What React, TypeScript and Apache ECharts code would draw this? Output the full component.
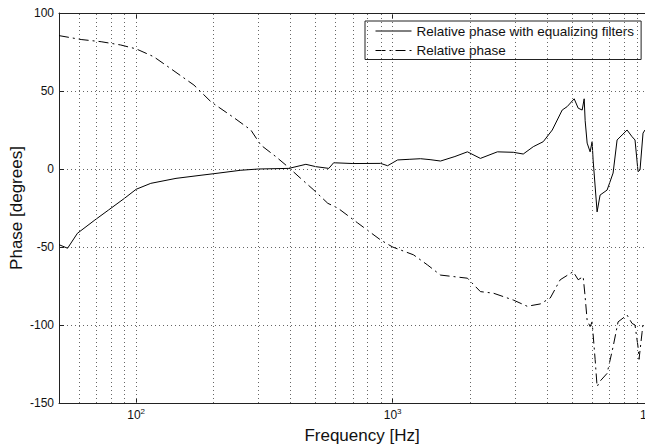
import React, { useEffect, useRef } from "react";
import * as echarts from "echarts";

const FONT = 'Arial, "Liberation Sans", Helvetica, sans-serif';
const INK = "#111";

// Phase response with equalizing filters: frequency [Hz] / phase [deg]
const eqFreq = [
  50, 54, 59, 69, 78, 90, 100, 114, 143, 179, 201, 256, 300, 367, 394, 459, 502, 564, 589,
  700, 898, 956, 1046, 1160, 1285, 1400, 1538, 1750, 1958, 2200, 2563, 2957, 3233, 3537,
  3868, 4195, 4586, 4797, 5108, 5294, 5487, 5587, 5636, 5738, 5894, 6000, 6054, 6275,
  6445, 6864, 7243, 7508, 7852, 8212, 8588, 8820, 9062, 9226, 9478, 9647, 10000,
];
const eqPhase = [
  -48.5, -50.8, -41.2, -32.7, -26.3, -18.8, -13, -9.2, -6, -4, -3, -0.8, 0, 0.3, 0.4, 3,
  1.5, 0.4, 4, 3.5, 3.6, 2.1, 5.8, 6.2, 6.6, 6, 5.1, 8, 11, 6.8, 11, 10.7, 9.6, 14.3, 17.5,
  25, 37.8, 40, 45, 39, 37.8, 45, 31, 16.6, 11, 17.5, 5.8, -27.5, -16.7, -13.5, -2.6, 18.6,
  21.8, 25, 20.7, 18.6, -1.7, -0.6, 23, 25, 25,
];

// Relative phase without equalization
const rawFreq = [
  50, 61, 73, 87, 100, 117, 133, 168, 196, 240, 280, 306, 350, 390, 438, 493, 559, 611, 731,
  898, 1000, 1206, 1368, 1538, 1958, 2200, 2472, 2957, 3351, 3766, 4120, 4505, 5062, 5294,
  5537, 5636, 5738, 5894, 6000, 6164, 6275, 6445, 6864, 7243, 7575, 8212, 8588, 8820, 9062,
  9144, 9393, 9478, 10000,
];
const rawPhase = [
  85.5, 83, 81.6, 79.5, 77, 72, 65.6, 53.8, 43, 33, 25, 15.4, 8, 1.5, -6, -13.5, -22, -25,
  -34.6, -45.5, -50, -55, -61.5, -68, -70, -78.6, -79.6, -84, -88, -86.5, -82.7, -71, -65.8,
  -71, -69, -82, -97, -101, -98, -122, -139.5, -136, -131, -114, -98, -93.6, -99, -100, -114,
  -122, -105, -99, -100,
];

// Vertical grid lines of the logarithmic frequency axis
const gridFreqs = [
  60, 70, 80, 90, 100, 200, 300, 400, 500, 600, 700, 800, 900, 1000, 2000, 3000, 4000, 5000,
  6000, 7000, 8000, 9000,
];

const SERIES_EQ = "Relative phase with equalizing filters";
const SERIES_RAW = "Relative phase";

const X_MIN = 50;
const X_MAX = 10000;
const Y_MIN = -150;
const Y_MAX = 100;
const Y_STEP = 50;

const zip = (xs: number[], ys: number[]) => xs.map((x, i) => [x, ys[i]]);

const powerLabel = (v: number) => {
  const e = Math.log10(v);
  const r = Math.round(e);
  if (Math.abs(e - r) > 1e-6) return "";
  return `{b|10}{e|${r}}`;
};

export default function App() {
  const ref = useRef<HTMLDivElement>(null);

  useEffect(() => {
    if (!ref.current) return;
    const chart = echarts.init(ref.current, undefined, { renderer: "svg" });

    const gridLine = { color: "#666", width: 1, type: [1, 3] as number[] };
    const axisLine = { show: true, onZero: false, lineStyle: { color: "#222", width: 1 } };
    const axisTick = { show: true, inside: true, length: 5, lineStyle: { color: "#222" } };

    chart.setOption({
      animation: false,
      backgroundColor: "#fff",
      textStyle: { fontFamily: FONT },
      grid: { left: 59, top: 13, width: 590, height: 390, containLabel: false },
      legend: {
        data: [SERIES_EQ, SERIES_RAW],
        orient: "vertical",
        left: 365,
        top: 21,
        itemWidth: 36,
        itemHeight: 14,
        itemGap: 5.5,
        padding: [3, 7, 2, 10],
        borderColor: "#222",
        borderWidth: 1,
        backgroundColor: "#fff",
        // keep only the line sample in each legend key
        itemStyle: { opacity: 0 },
        lineStyle: { width: 1 },
        textStyle: { fontSize: 13.5, color: INK, fontFamily: FONT },
      },
      xAxis: [
        {
          type: "log",
          logBase: 10,
          min: X_MIN,
          max: X_MAX,
          position: "bottom",
          axisLine,
          axisTick,
          splitLine: { show: false },
          axisLabel: {
            margin: 4,
            color: INK,
            formatter: powerLabel,
            rich: {
              b: { fontSize: 12, fontFamily: FONT, color: INK, lineHeight: 14, padding: [4, 0, 0, 0], verticalAlign: "bottom" },
              e: { fontSize: 8, fontFamily: FONT, color: INK, lineHeight: 10, verticalAlign: "top" },
            },
          },
        },
        {
          type: "log",
          logBase: 10,
          min: X_MIN,
          max: X_MAX,
          position: "top",
          axisLine,
          axisTick,
          splitLine: { show: false },
          axisLabel: { show: false },
        },
      ],
      yAxis: {
        type: "value",
        min: Y_MIN,
        max: Y_MAX,
        interval: Y_STEP,
        axisLine,
        axisTick,
        axisLabel: { margin: 5, fontSize: 12, color: INK, fontFamily: FONT },
        splitLine: { show: true, lineStyle: gridLine },
      },
      series: [
        {
          name: "grid",
          type: "line",
          data: [],
          silent: true,
          z: 1,
          markLine: {
            silent: true,
            symbol: ["none", "none"],
            label: { show: false },
            lineStyle: gridLine,
            emphasis: { disabled: true },
            data: gridFreqs.map((f) => ({ xAxis: f })),
          },
        },
        {
          name: SERIES_EQ,
          type: "line",
          data: zip(eqFreq, eqPhase),
          symbol: "none",
          showSymbol: false,
          z: 3,
          lineStyle: { color: "#000", width: 1, type: "solid" },
          itemStyle: { color: "#000" },
        },
        {
          name: SERIES_RAW,
          type: "line",
          data: zip(rawFreq, rawPhase),
          symbol: "none",
          showSymbol: false,
          z: 3,
          lineStyle: { color: "#000", width: 1, type: [10, 4, 2, 4] },
          itemStyle: { color: "#000" },
        },
      ],
      graphic: [
        {
          type: "text",
          x: 362,
          y: 435,
          silent: true,
          style: {
            text: "Frequency [Hz]",
            fontSize: 17,
            fontFamily: FONT,
            fill: INK,
            align: "center",
            verticalAlign: "middle",
          },
        },
        {
          type: "text",
          x: 16,
          y: 208,
          rotation: Math.PI / 2,
          silent: true,
          style: {
            text: "Phase [degrees]",
            fontSize: 17,
            fontFamily: FONT,
            fill: INK,
            align: "center",
            verticalAlign: "middle",
          },
        },
      ],
    });

    return () => chart.dispose();
  }, []);

  return (
    <div style={{ position: "fixed", left: 0, top: 0, width: 645, height: 445, overflow: "hidden", background: "#fff" }}>
      <div ref={ref} style={{ width: 664, height: 445 }} />
    </div>
  );
}
